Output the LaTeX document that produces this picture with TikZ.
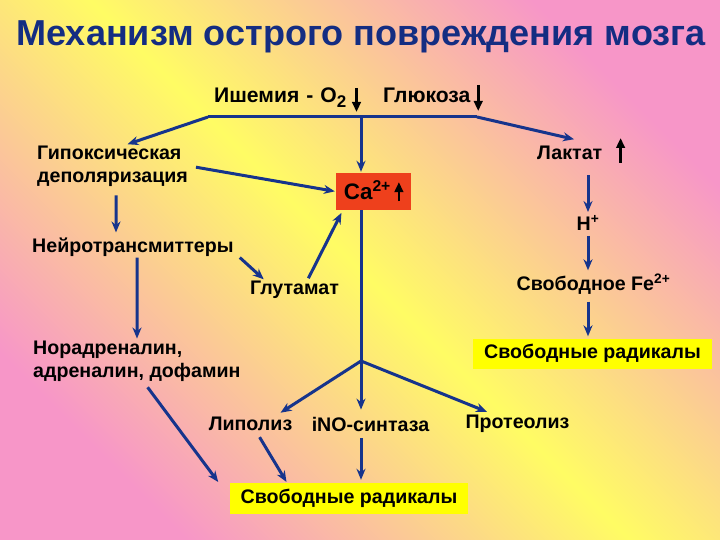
\documentclass[tikz,border=0pt]{standalone}
\usepackage{fontspec}
\setmainfont{Liberation Sans}
\usetikzlibrary{arrows.meta,positioning}

\definecolor{bgyellow}{RGB}{255,252,100}
\definecolor{bgpink}{RGB}{247,150,200}
\definecolor{titleblue}{RGB}{20,45,130}
\definecolor{linkblue}{RGB}{22,52,140}
\definecolor{cared}{RGB}{238,64,28}
\definecolor{radyellow}{RGB}{255,255,0}

\tikzset{blackarrow/.style={draw=black, line width=2.6bp, -{Triangle[length=10bp,width=8.5bp]}}}
% small black up/down arrows set inside the labels
\newcommand{\arrv}[2]{\tikz[baseline=0pt, x=1bp, y=1bp] \draw[blackarrow] (0,#1) -- (0,#2);}

\begin{document}
\begin{tikzpicture}[x=1bp, y=-1bp,
  every node/.style={font=\fontsize{19.7}{23}\selectfont\bfseries, inner sep=1bp},
  toprow/.style={anchor=base west, font=\fontsize{21.2}{24}\selectfont\bfseries},
  link/.style={draw=linkblue, line width=3bp},
  arr/.style={link, -{Stealth[length=11bp,width=9bp]}, shorten >=1bp},
  hibox/.style={fill=radyellow, minimum width=239bp, minimum height=30bp}]
  \useasboundingbox (0,0) rectangle (720,540);
  \shade[top color=bgpink, bottom color=bgpink, middle color=bgyellow, shading angle=-45]
    (0,0) rectangle (720,540);

  % title
  \node[font=\fontsize{36.2}{40}\selectfont\bfseries, text=titleblue] (title) at (361,37)
    {Механизм острого повреждения мозга};

  % top row
  \node[toprow] (isch) at (213,103)
    {Ишемия\hspace{7bp}-\hspace{7bp}O{\fontsize{17}{17}\selectfont\raisebox{-5bp}{2}}\hspace{6bp}\arrv{15}{-9}};
  \node[toprow] (gluc) at (382,103) {Глюкоза\,\arrv{18}{-8}};
  \coordinate (barL) at (208,117);
  \coordinate (barM) at (361,117);
  \coordinate (barR) at (477,117);

  % left branch
  \node[anchor=west, align=left] (hypox) at (36,166) {Гипоксическая\\деполяризация};
  \node[anchor=west] (neuro) at (31,247) {Нейротрансмиттеры};
  \node (glut) at (294.5,290) {Глутамат};
  \node[anchor=west, align=left] (noradr) at (32,361) {Норадреналин,\\адреналин, дофамин};

  % centre
  \node[fill=cared, minimum width=75bp, minimum height=37bp,
    font=\fontsize{22.5}{24}\selectfont\bfseries] (ca) at (373.5,191.5) {Ca\textsuperscript{2+}\,\arrv{-2}{17}};
  \coordinate (split) at (361,361);
  \node (lipol) at (250.5,424) {Липолиз};
  \node (ino) at (370.5,424) {iNO-синтаза};
  \node (prot) at (517.5,424) {Протеолиз};
  \node[hibox, minimum width=238bp, minimum height=31bp] (rad2) at (349,498.5) {Свободные радикалы};

  % right branch
  \node[anchor=base west] (lact) at (536,160) {Лактат\hspace{14bp}\arrv{-3}{22}};
  \node (hplus) at (588,223) {H\textsuperscript{+}};
  \node (fe) at (593.5,284) {Свободное Fe\textsuperscript{2+}};
  \node[hibox] (rad1) at (592.5,353.5) {Свободные радикалы};

  % connectors
  \draw[link] (barL) -- (barR);
  \draw[arr] (barL) -- ([xshift=14bp]hypox.north);
  \draw[arr] (barR) -- ([xshift=39bp,yshift=-4bp]lact.north west);
  \draw[arr] (barM) -- (barM |- ca.north);
  \draw[arr, shorten <=7bp] (hypox.east) -- (ca.west);
  \draw[arr, shorten <=8bp, shorten >=4bp] ([xshift=80bp]hypox.south west) -- ([xshift=85bp]neuro.north west);
  \draw[arr] ([xshift=106bp]neuro.south west) -- ([xshift=105bp]noradr.north west);
  \draw[arr] ([xshift=5bp]neuro.south east) -- ([xshift=-30bp]glut.north);
  \draw[arr, shorten <=2bp, shorten >=3bp] ([xshift=13bp]glut.north) -- ([xshift=7bp]ca.south west);
  \draw[link] (ca.south -| split) -- (split);
  \draw[arr, shorten >=6bp] (split) -- ([xshift=25bp]lipol.north);
  \draw[arr, shorten >=6bp] (split) -- (split |- ino.north);
  \draw[arr, shorten >=6bp] (split) -- ([xshift=-25bp]prot.north);
  \draw[arr, shorten <=6bp] ([xshift=112bp]noradr.south west) -- ([xshift=-11bp]rad2.north west);
  \draw[arr, shorten <=6bp] ([xshift=6bp]lipol.south) -- ([xshift=-62bp]rad2.north);
  \draw[arr, shorten <=6bp, shorten >=3bp] (split |- ino.south) -- (split |- rad2.north);
  \draw[arr, shorten <=10bp, shorten >=2bp] (hplus |- lact.south) -- (hplus.north);
  \draw[arr, shorten <=4bp, shorten >=2bp] (hplus.south) -- (hplus |- fe.north);
  \draw[arr, shorten <=6bp, shorten >=2bp] (hplus |- fe.south) -- (hplus |- rad1.north);
\end{tikzpicture}
\end{document}
